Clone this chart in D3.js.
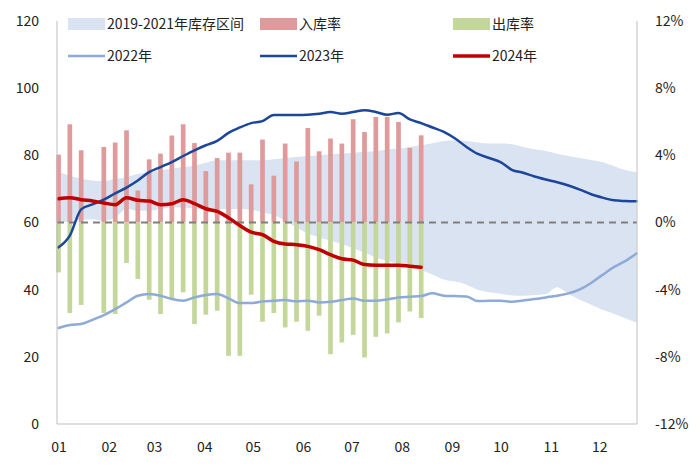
<!DOCTYPE html>
<html><head><meta charset="utf-8">
<script src="https://cdn.jsdelivr.net/npm/d3@7"></script>
<style>
html,body{margin:0;padding:0;background:#fff;}
svg{display:block;font-family:"Noto Sans CJK SC","Noto Sans",sans-serif;}
</style></head>
<body><svg id="c" width="700" height="467"></svg>
<script>
// ---- data (weekly index 0..51) ----
const monthLabels = ["01","02","03","04","05","06","07","08","09","10","11","12"];
const monthTickWeeks = [0, 4.43, 8.43, 12.86, 17.14, 21.57, 25.86, 30.29, 34.71, 39, 43.43, 47.71];
const leftTicks = [0, 20, 40, 60, 80, 100, 120];
const rightTicks = [-12, -8, -4, 0, 4, 8, 12];

const bandLow = [59.8,60.3,60.8,61.0,60.5,61.5,64.0,63.5,63.5,64.0,64.5,64.5,64.2,64.0,64.0,64.0,64.0,63.8,63.0,62.2,60.5,58.5,56.7,55.6,54.6,53.6,52.3,51.0,49.6,48.6,47.6,46.7,45.8,44.5,43.0,42.4,41.5,40.0,39.2,38.8,38.3,38.2,38.4,38.7,40.7,38.7,37.0,35.5,34.0,32.8,31.5,30.2];
const bandHigh = [75.0,74.0,73.0,72.5,72.3,73.0,73.5,74.5,75.0,75.5,76.0,76.5,77.0,77.8,78.5,78.5,78.5,78.5,78.5,78.8,79.2,79.5,79.7,80.0,80.3,80.5,80.8,81.0,81.3,81.7,82.0,82.5,83.0,83.6,84.3,84.5,84.3,83.8,83.5,83.5,83.3,82.5,81.8,81.3,80.5,79.8,79.2,78.6,78.0,76.8,75.6,75.0];
const inv2022 = [28.6,29.5,29.8,31.0,32.4,34.2,36.2,38.2,38.7,38.2,37.2,36.7,37.7,38.4,38.7,37.4,36.0,36.0,36.5,36.7,36.9,36.5,36.7,36.2,36.4,36.9,37.4,36.7,36.7,37.1,37.7,37.9,38.1,38.9,38.2,38.1,38.0,36.6,36.7,36.7,36.4,36.8,37.2,37.7,38.2,38.9,40.1,42.0,44.4,46.7,48.5,50.8];
const inv2023 = [52.6,56.1,63.9,65.4,66.8,68.7,70.4,72.5,75.0,76.5,78.0,79.8,81.5,83.0,84.3,86.7,88.3,89.6,90.2,92.0,92.0,92.0,92.1,92.4,92.9,92.4,92.9,93.4,92.9,92.1,92.6,90.7,89.6,88.3,87.0,85.0,82.5,80.4,79.2,78.0,75.7,74.8,73.7,72.8,72.0,71.0,69.8,68.4,67.4,66.6,66.4,66.3];
const inv2024 = [67.1,67.4,66.8,66.4,65.8,65.3,67.4,66.6,66.4,65.3,65.6,66.8,65.6,64.1,63.3,61.4,59.1,57.1,56.4,54.4,53.6,53.4,52.9,51.9,50.4,49.2,48.8,47.5,47.3,47.3,47.3,47.0,46.7];
const inflowRate = [4.04,5.85,4.30,null,4.50,4.76,5.49,1.91,3.76,4.10,5.18,5.85,4.73,3.06,3.84,4.16,4.16,2.27,4.94,2.79,4.70,3.64,5.63,4.24,5.00,4.70,6.15,5.39,6.29,6.29,5.99,4.44,5.19];
const outflowRate = [-2.97,-5.39,-4.91,null,-5.39,-5.45,-2.41,-3.36,-4.60,-5.45,-4.50,-4.16,-6.05,-5.49,-5.25,-7.94,-7.94,-4.30,-5.91,-5.39,-6.25,-5.91,-6.45,-5.55,-7.84,-7.15,-6.69,-8.04,-6.81,-6.61,-5.95,-5.30,-5.69];

const legendItems = [
  {label:"2019-2021年库存区间", type:"rect", color:"#dae3f1"},
  {label:"入库率", type:"rect", color:"#df9b9b"},
  {label:"出库率", type:"rect", color:"#c4d79b"},
  {label:"2022年", type:"line", color:"#8eaad6", w:2.5},
  {label:"2023年", type:"line", color:"#1c4699", w:2.5},
  {label:"2024年", type:"line", color:"#c00000", w:3.5}
];

// ---- layout ----
const L = 57, R = 637, T = 21, B = 424;
const svg = d3.select("#c");
const x = d3.scaleLinear().domain([0, 51]).range([58.5, 636.5]);
const yL = d3.scaleLinear().domain([0, 120]).range([B, T]);
const yR = d3.scaleLinear().domain([-12, 12]).range([B, T]);
const barW = 4.7;

// band
const idx = d3.range(bandLow.length);
svg.append("path")
  .attr("d", d3.area().x(i => x(i)).y0(i => yL(bandLow[i])).y1(i => yL(bandHigh[i])).curve(d3.curveMonotoneX)(idx))
  .attr("fill", "#dae3f1");

// bars
svg.append("g").selectAll("rect").data(inflowRate.map((v,i)=>({v,i})).filter(d=>d.v!=null))
  .join("rect")
  .attr("x", d => x(d.i) - barW/2).attr("width", barW)
  .attr("y", d => yR(d.v)).attr("height", d => yR(0) - yR(d.v))
  .attr("fill", "#df9b9b");
svg.append("g").selectAll("rect").data(outflowRate.map((v,i)=>({v,i})).filter(d=>d.v!=null))
  .join("rect")
  .attr("x", d => x(d.i) - barW/2).attr("width", barW)
  .attr("y", yR(0)).attr("height", d => yR(d.v) - yR(0))
  .attr("fill", "#c4d79b");

// zero dashed line
svg.append("line").attr("x1", L).attr("x2", R).attr("y1", yR(0)).attr("y2", yR(0))
  .attr("stroke", "#7f7f7f").attr("stroke-width", 1.8).attr("stroke-dasharray", "7,5");

// lines
function drawLine(arr, color, w){
  svg.append("path")
    .attr("d", d3.line().x((d,i)=>x(i)).y(d=>yL(d)).curve(d3.curveMonotoneX)(arr))
    .attr("fill","none").attr("stroke", color).attr("stroke-width", w)
    .attr("stroke-linejoin","round").attr("stroke-linecap","round");
}
drawLine(inv2022, "#8eaad6", 2.5);
drawLine(inv2023, "#1c4699", 2.5);
drawLine(inv2024, "#c00000", 3.5);

// frame lines
const frame = svg.append("g").attr("stroke", "#bfbfbf").attr("stroke-width", 1);
frame.append("line").attr("x1", L).attr("x2", L).attr("y1", T).attr("y2", B);
frame.append("line").attr("x1", R).attr("x2", R).attr("y1", T).attr("y2", B);
frame.append("line").attr("x1", L).attr("x2", R).attr("y1", B).attr("y2", B);

// axes
const gl = svg.append("g").attr("transform", `translate(${L},0)`)
  .call(d3.axisLeft(yL).tickValues(leftTicks).tickSize(0).tickPadding(18));
const gr = svg.append("g").attr("transform", `translate(${R},0)`)
  .call(d3.axisRight(yR).tickValues(rightTicks).tickSize(0).tickPadding(18).tickFormat(d => d + "%"));
const gb = svg.append("g").attr("transform", `translate(0,${B})`)
  .call(d3.axisBottom(x).tickValues(monthTickWeeks).tickSize(0).tickPadding(18)
    .tickFormat((d,i) => monthLabels[i]));
[gl, gr, gb].forEach(g => {
  g.select(".domain").remove();
  g.selectAll("text").attr("font-size", 14).attr("fill", "#222")
    .attr("font-family", '"Noto Sans CJK SC","Noto Sans",sans-serif');
});

// legend
const legPos = [[68,24],[260,24],[453,24],[68,56],[260,56],[453,56]];
const leg = svg.append("g");
legendItems.forEach((it, k) => {
  const [lx, ly] = legPos[k];
  if (it.type === "rect") {
    leg.append("rect").attr("x", lx).attr("y", ly - 6).attr("width", 37).attr("height", 12).attr("fill", it.color);
  } else {
    leg.append("line").attr("x1", lx).attr("x2", lx + 37).attr("y1", ly).attr("y2", ly)
      .attr("stroke", it.color).attr("stroke-width", it.w);
  }
  leg.append("text").attr("x", lx + 39).attr("y", ly).attr("dy", "0.35em")
    .attr("font-size", 14).attr("fill", "#222").text(it.label);
});
</script></body></html>
